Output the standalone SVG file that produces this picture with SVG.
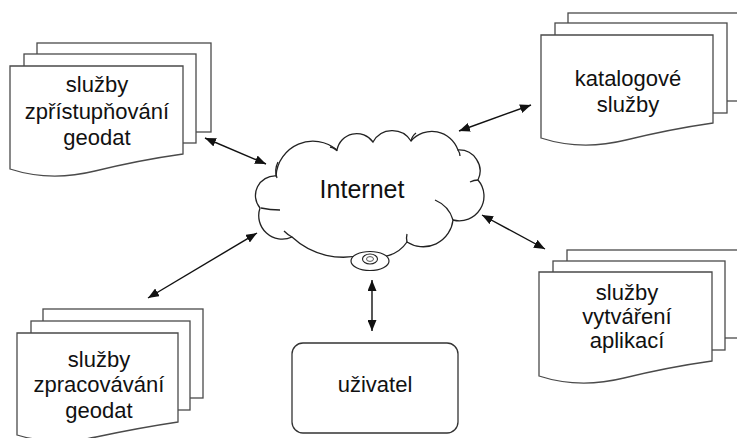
<svg xmlns="http://www.w3.org/2000/svg" width="737" height="438" viewBox="0 0 737 438">
  <style>
    .sheet { fill: #ffffff; stroke: #4a4a4a; stroke-width: 1.3; }
    .label { font-family: "Liberation Sans", Arial, sans-serif; font-size: 22px; fill: #111111; text-anchor: middle; }
    .cloud { fill: #ffffff; stroke: #222222; stroke-width: 1.3; }
    .tail { fill: none; stroke: #222222; stroke-width: 1.3; }
    .link { stroke: #111111; stroke-width: 1.4; fill: none; marker-start: url(#head); marker-end: url(#head); }
    .box { fill: #ffffff; stroke: #333333; stroke-width: 1.3; }
  </style>
  <defs>
    <marker id="head" markerUnits="userSpaceOnUse" markerWidth="12" markerHeight="9" refX="11" refY="4.5" orient="auto-start-reverse">
      <path d="M0,0 L11,4.5 L0,9 Z" fill="#111111"/>
    </marker>
  </defs>

  <rect width="737" height="438" fill="#ffffff"/>

  <!-- stacked document: data access services -->
  <g id="doc-access">
    <rect class="sheet" x="37" y="43" width="174" height="89"/>
    <rect class="sheet" x="24" y="54" width="172" height="89"/>
    <path class="sheet" d="M10,66 H183 V154 Q140,160 95,171 T10,169 Z"/>
    <text class="label" x="97" y="92">služby</text>
    <text class="label" x="97" y="118.5">zpřístupňování</text>
    <text class="label" x="97" y="145">geodat</text>
  </g>

  <!-- stacked document: catalogue services -->
  <g id="doc-catalogue">
    <rect class="sheet" x="568" y="13" width="180" height="88"/>
    <rect class="sheet" x="555" y="23" width="172" height="90"/>
    <path class="sheet" d="M541,35 H713 V123 Q671,129 626,140 T541,138 Z"/>
    <text class="label" x="628" y="86">katalogové</text>
    <text class="label" x="628" y="112">služby</text>
  </g>

  <!-- stacked document: application services -->
  <g id="doc-applications">
    <rect class="sheet" x="567" y="250" width="180" height="88"/>
    <rect class="sheet" x="553" y="261" width="172" height="89"/>
    <path class="sheet" d="M539,272 H712 V361 Q669,367 624,378 T539,376 Z"/>
    <text class="label" x="627" y="300">služby</text>
    <text class="label" x="627" y="324">vytváření</text>
    <text class="label" x="627" y="348">aplikací</text>
  </g>

  <!-- stacked document: processing services -->
  <g id="doc-processing">
    <rect class="sheet" x="43" y="309" width="160" height="89"/>
    <rect class="sheet" x="31" y="321" width="159" height="89"/>
    <path class="sheet" d="M17,333 H178 V422 Q138,428 96,437 T17,435 Z"/>
    <text class="label" x="99" y="367">služby</text>
    <text class="label" x="99" y="392">zpracovávání</text>
    <text class="label" x="99" y="418">geodat</text>
  </g>

  <!-- network cloud -->
  <g id="internet">
    <path class="cloud" d="M276,176
      A37,37 0 0 1 337,150
      A20,20 0 0 1 373,142
      A22,22 0 0 1 411,141
      A27.6,27.6 0 0 1 458,150
      A21,21 0 0 1 478,180
      A24.7,24.7 0 0 1 453,220
      A30,30 0 0 1 407,242
      A34,34 0 0 1 365,254
      A75,75 0 0 1 292,237
      A23.5,23.5 0 0 1 260,208
      A19.5,19.5 0 0 1 276,176 Z"/>
    <path class="tail" d="M277,178 q-3,-8 1,-16"/>
    <path class="tail" d="M261,208 q9,2 19,2"/>
    <path class="tail" d="M284,231 q4,4 8,6"/>
    <path class="tail" d="M330,147 q5,1 7,4"/>
    <path class="tail" d="M411,141 q1,-5 5,-8"/>
    <path class="tail" d="M458,150 q2,3 2,6"/>
    <path class="tail" d="M470,182 q4,-2 8,-2"/>
    <path class="tail" d="M435,200 q14,6 18,20"/>
    <path class="tail" d="M407,242 q-1,-4 0,-8"/>
    <ellipse cx="370" cy="261" rx="19" ry="9.5" fill="#ffffff" stroke="#222222" stroke-width="1.2"/>
    <ellipse cx="370" cy="259" rx="7.5" ry="5" fill="none" stroke="#222222" stroke-width="1.1"/>
    <ellipse cx="370" cy="259" rx="3.5" ry="2.4" fill="none" stroke="#444444" stroke-width="0.9"/>
    <text x="362" y="198" font-family="Liberation Sans, Arial, sans-serif" font-size="25" fill="#111111" text-anchor="middle">Internet</text>
  </g>

  <!-- user -->
  <g id="user">
    <rect class="box" x="292" y="343" width="166" height="90" rx="11" ry="11"/>
    <text class="label" x="375" y="392">uživatel</text>
  </g>

  <!-- two-way links between the cloud and each party -->
  <g id="connectors">
    <line class="link" x1="205" y1="138" x2="266" y2="164"/>
    <line class="link" x1="531" y1="105" x2="459" y2="131"/>
    <line class="link" x1="482" y1="215" x2="545" y2="249"/>
    <line class="link" x1="257" y1="233" x2="148" y2="298"/>
    <line class="link" x1="372" y1="280" x2="372" y2="331"/>
  </g>
</svg>
